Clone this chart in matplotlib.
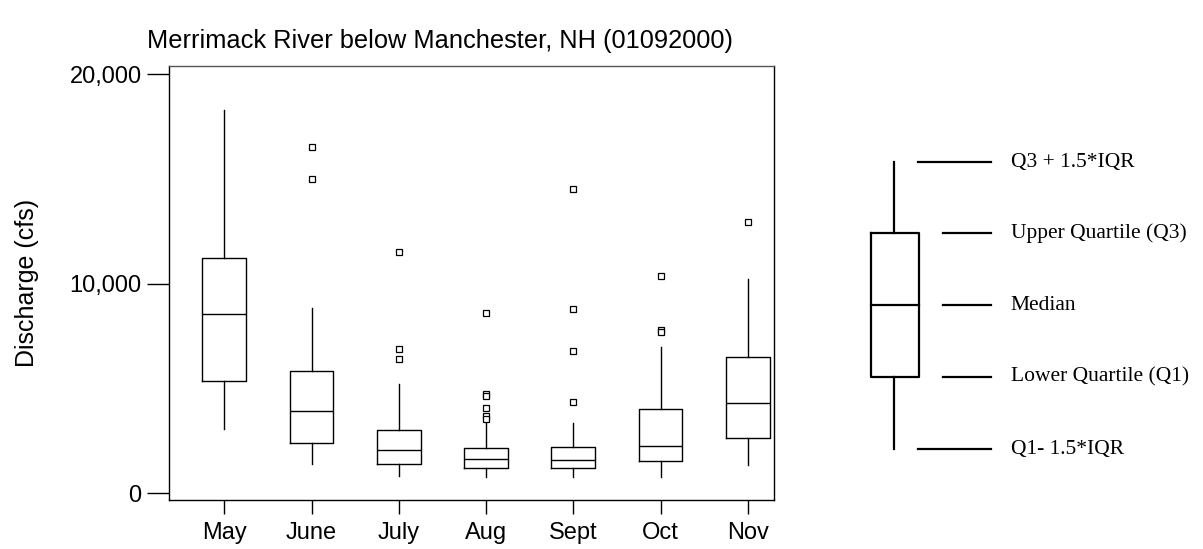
import matplotlib
matplotlib.use("Agg")
import matplotlib.pyplot as plt
from matplotlib.lines import Line2D

months = ["May", "June", "July", "Aug", "Sept", "Oct", "Nov"]
whislo = [3070, 1385, 825, 765, 765, 765, 1335]
q1 = [5375, 2415, 1400, 1220, 1220, 1540, 2625]
med = [8545, 3915, 2065, 1650, 1605, 2270, 4310]
q3 = [11245, 5835, 3035, 2150, 2225, 4010, 6505]
whishi = [18295, 8845, 5230, 3420, 3340, 7000, 10215]
fliers = [
    [],
    [16515, 14990],
    [11515, 6900, 6410],
    [8590, 4740, 4645, 4060, 3690, 3530],
    [14525, 8800, 6805, 4360],
    [10385, 7780, 7700],
    [12935],
]
yticks = [0, 10000, 20000]
ytick_labels = ["0", "10,000", "20,000"]
legend_labels = ["Q3 + 1.5*IQR", "Upper Quartile (Q3)", "Median",
                 "Lower Quartile (Q1)", "Q1- 1.5*IQR"]

W, H = 1203, 549
fig = plt.figure(figsize=(W / 100, H / 100), dpi=100)
sans = ["Liberation Sans", "DejaVu Sans"]
serif = ["Liberation Serif", "DejaVu Serif"]

L, R, T, B = 169.3, 774, 66, 500
ax = fig.add_axes([L / W, (H - B) / H, (R - L) / W, (B - T) / H])

stats = []
for i in range(len(months)):
    stats.append(dict(label=months[i], whislo=whislo[i], q1=q1[i], med=med[i],
                      q3=q3[i], whishi=whishi[i], fliers=fliers[i]))

lw = 1.0
ax.bxp(stats, positions=range(1, len(months) + 1), widths=0.5, showcaps=False,
       boxprops=dict(color="black", linewidth=lw),
       whiskerprops=dict(color="black", linewidth=lw),
       medianprops=dict(color="black", linewidth=lw),
       flierprops=dict(marker="s", markersize=5, markerfacecolor="white",
                       markeredgecolor="black", markeredgewidth=0.9, linestyle="none"))

ax.set_xlim(0.37, 7.30)
ax.set_ylim(-320, 20395)
ax.set_yticks(yticks)
ax.set_yticklabels(ytick_labels, fontfamily=sans, fontsize=17)
ax.set_xticks(range(1, len(months) + 1))
ax.set_xticklabels(months, fontfamily=sans, fontsize=17)
ax.tick_params(axis="y", length=16, width=1, direction="out", pad=4)
ax.tick_params(axis="x", length=10, width=1, direction="out", pad=6)
for s in ax.spines.values():
    s.set_linewidth(1.0)
    s.set_color("black")
ax.spines["top"].set_color("#555555")
ax.set_ylabel("Discharge (cfs)", fontfamily=sans, fontsize=18, labelpad=22)
fig.text(440 / W, 1 - 41 / H, "Merrimack River below Manchester, NH (01092000)",
         ha="center", va="center", fontfamily=sans, fontsize=18.3)

# schematic legend drawn in figure pixel coordinates
lax = fig.add_axes([0, 0, 1, 1], facecolor="none")
lax.set_xlim(0, W)
lax.set_ylim(H, 0)
lax.axis("off")
llw = 1.6
bx0, bx1, bxc = 870.7, 918.7, 894.3
ys = [162.3, 233.3, 305, 377.3, 449.3]
lax.add_line(Line2D([bxc, bxc], [ys[0], ys[1]], color="black", lw=llw))
lax.add_line(Line2D([bxc, bxc], [ys[3], ys[4]], color="black", lw=llw))
lax.add_line(Line2D([bx0, bx1, bx1, bx0, bx0], [ys[1], ys[1], ys[3], ys[3], ys[1]],
                    color="black", lw=llw))
lax.add_line(Line2D([bx0, bx1], [ys[2], ys[2]], color="black", lw=llw))
for i, (y, lab) in enumerate(zip(ys, legend_labels)):
    x0 = 918.3 if i in (0, 4) else 942.7
    lax.add_line(Line2D([x0, 990.7], [y, y], color="black", lw=llw))
    lax.text(1010.7, y, lab, ha="left", va="center", fontfamily=serif, fontsize=15.5)

fig.savefig("out.png", dpi=100)
